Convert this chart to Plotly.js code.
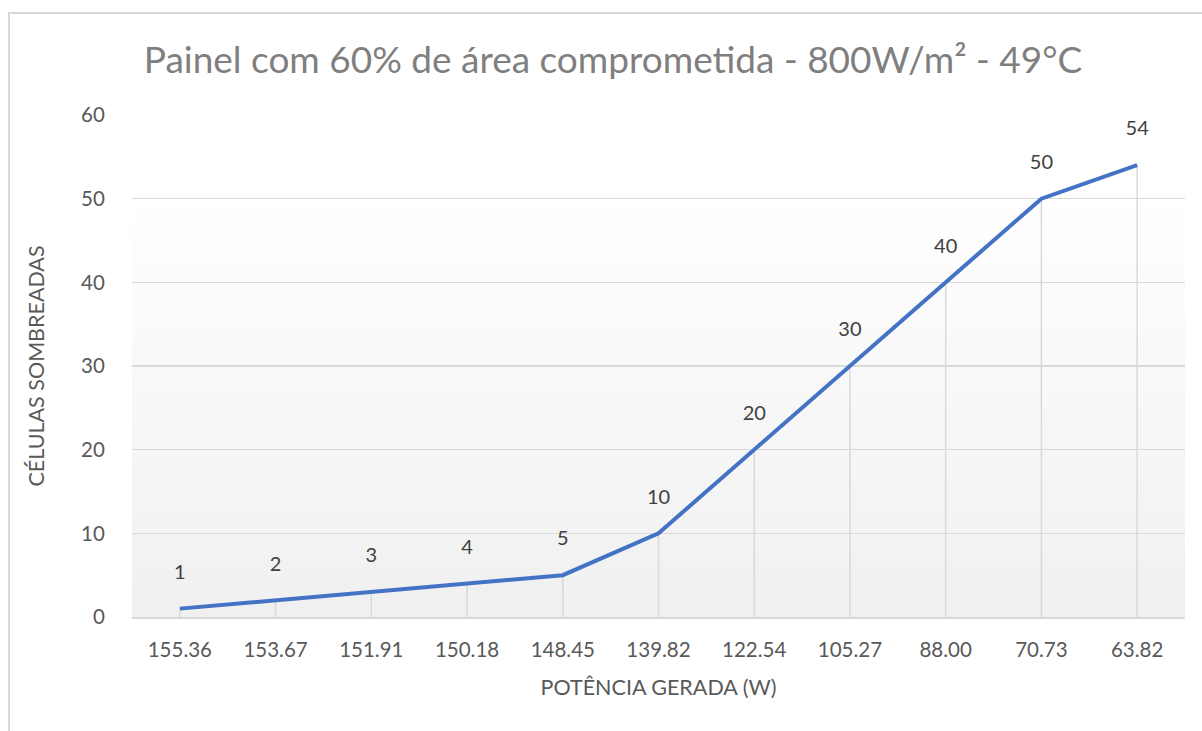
<!DOCTYPE html>
<html>
<head>
<meta charset="utf-8">
<script src="https://cdn.plot.ly/plotly-3.0.1.min.js"></script>
<style>
  html, body { margin:0; padding:0; background:#ffffff; }
  #wrap { position:relative; width:1202px; height:731px; overflow:hidden; }
  #chart { position:absolute; left:0; top:0; width:1202px; height:731px; }
  #frame { position:absolute; left:8px; top:12px; width:1300px; height:800px;
           border-top:2px solid #d9d9d9; border-left:2px solid #d9d9d9; pointer-events:none; }
</style>
</head>
<body>
<div id="wrap">
  <div id="chart"></div>
  <div id="frame"></div>
</div>
<script>
// Data
const potencia = ["155.36","153.67","151.91","150.18","148.45","139.82","122.54","105.27","88.00","70.73","63.82"];
const celulas = [1, 2, 3, 4, 5, 10, 20, 30, 40, 50, 54];
const yTicks = [0, 10, 20, 30, 40, 50, 60];

const titleText = "Painel com 60% de área comprometida - 800W/m² - 49°C";
const xTitle = "POTÊNCIA GERADA (W)";
const yTitle = "CÉLULAS SOMBREADAS";

const FONT = "Lato, 'Open Sans', sans-serif";

const gradSvg = "<svg xmlns='http://www.w3.org/2000/svg' width='100' height='100' preserveAspectRatio='none'>" +
  "<defs><linearGradient id='g' x1='0' y1='0' x2='0' y2='1'>" +
  "<stop offset='0' stop-color='#ffffff'/><stop offset='0.15' stop-color='#ffffff'/><stop offset='1' stop-color='#f0f0f0'/>" +
  "</linearGradient></defs><rect width='100' height='100' fill='url(#g)'/></svg>";
const gradUri = "data:image/svg+xml;charset=utf-8," + encodeURIComponent(gradSvg);

const trace = {
  x: potencia,
  y: celulas,
  type: "scatter",
  mode: "lines+markers+text",
  text: celulas.map(String),
  textposition: "top center",
  textfont: { family: FONT, size: 20, color: "#404040" },
  marker: { size: 38, color: "rgba(0,0,0,0)" },
  line: { color: "#4472C4", width: 4 },
  error_y: {
    type: "data",
    symmetric: false,
    array: celulas.map(() => 0),
    arrayminus: celulas,
    color: "#d9d9d9",
    thickness: 1.5,
    width: 0
  },
  cliponaxis: false,
  hoverinfo: "x+y"
};

const layout = {
  width: 1202,
  height: 731,
  margin: { l: 132, r: 17, t: 115, b: 114 },
  paper_bgcolor: "rgba(0,0,0,0)",
  plot_bgcolor: "rgba(0,0,0,0)",
  showlegend: false,
  title: {
    text: titleText,
    font: { family: FONT, size: 37, color: "#7f7f7f" },
    x: 0.51, xanchor: "center",
    y: 0.918, yanchor: "middle"
  },
  xaxis: {
    type: "category",
    range: [-0.5, potencia.length - 0.5],
    tickvals: potencia,
    ticktext: potencia,
    showgrid: false,
    showline: true,
    linecolor: "#d9d9d9",
    linewidth: 1.5,
    ticks: "outside",
    ticklen: 14,
    tickcolor: "rgba(0,0,0,0)",
    tickfont: { family: FONT, size: 20.5, color: "#595959" },
    title: { text: xTitle, font: { family: FONT, size: 21.5, color: "#595959" }, standoff: 20 },
    fixedrange: true
  },
  yaxis: {
    range: [0, 60],
    tickvals: yTicks,
    ticktext: yTicks.map(String),
    showgrid: true,
    gridcolor: "#d9d9d9",
    gridwidth: 1.5,
    zeroline: false,
    showline: false,
    ticks: "outside",
    ticklen: 22,
    tickcolor: "rgba(0,0,0,0)",
    tickfont: { family: FONT, size: 20.5, color: "#595959" },
    title: { text: yTitle, font: { family: FONT, size: 21.5, color: "#595959" }, standoff: 30 },
    fixedrange: true
  },
  images: [{
    source: gradUri,
    xref: "paper", yref: "paper",
    x: 0, y: 1, sizex: 1, sizey: 1,
    sizing: "stretch",
    xanchor: "left", yanchor: "top",
    layer: "below"
  }]
};

Plotly.newPlot("chart", [trace], layout, { displayModeBar: false, staticPlot: true });
</script>
</body>
</html>
